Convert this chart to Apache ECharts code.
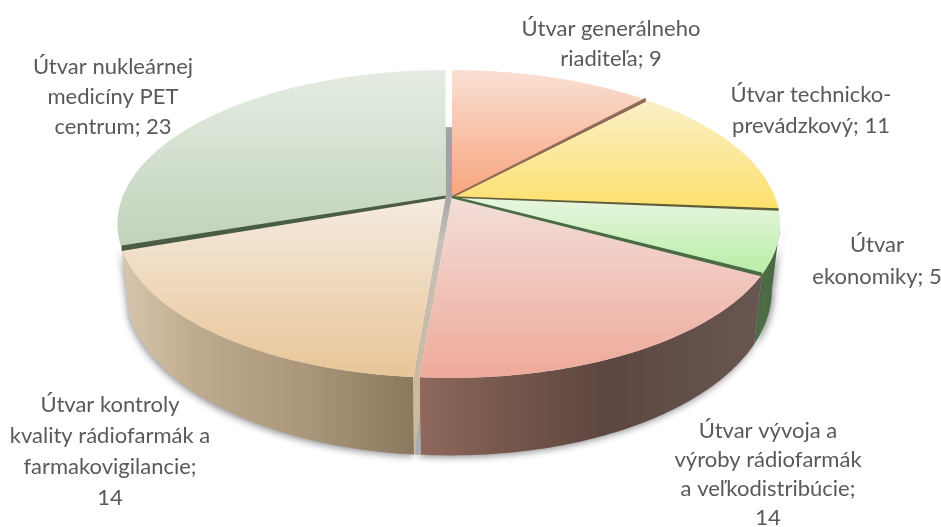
<!DOCTYPE html>
<html>
<head>
<meta charset="utf-8">
<style>html,body{margin:0;padding:0;background:#fff}#c{width:941px;height:527px}</style>
<script src="https://cdn.jsdelivr.net/npm/echarts@6/dist/echarts.min.js"></script>
</head>
<body>
<div id="c"></div>
<script>
const categories = ['Útvar generálneho\nriaditeľa', 'Útvar technicko-\nprevádzkový', 'Útvar\nekonomiky', 'Útvar vývoja a\nvýroby rádiofarmák\na veľkodistribúcie', 'Útvar kontroly\nkvality rádiofarmák a\nfarmakovigilancie', 'Útvar nukleárnej\nmedicíny PET\ncentrum'];
const values = [9, 11, 5, 14, 14, 23];
const valueOnOwnLine = [false, false, false, true, true, false];

// Layout and style, kept apart from the data
const topColors = [['#fae0d5','#f8a47c'],['#fbf0c8','#fde06c'],['#e8f6e0','#b8eea6'],['#f3ded9','#eea999'],['#f4ebe0','#e9c597'],['#e5ece3','#bfd3b9']];
const wallColors = [null, null,
  [[0,'#4f7249'],[1,'#48653f']],
  [[0,'#8f685d'],[0.25,'#76574c'],[0.55,'#5c4640'],[0.8,'#64504a'],[1,'#6a5650']],
  [[0,'#d6c6ac'],[0.25,'#bfab8f'],[0.65,'#a8957a'],[1,'#8b785d']],
  null];
const labelPos = [[611,44],[811,110],[877,261],[768,474],[110,451],[113,97]];
const labelLH = [30,31,32,29,31,30];
const offsets = [0,0,0,0,-6.5,-6.5];
const cutLines = [
  {at:0, color:'#8e6a58', w0:2, w1:4},
  {at:1, color:'#5e5f3a', w0:1.6, w1:2.4},
  {at:2, color:'#4a6b45', w0:2.4, w1:4},
  {at:4, color:'#4b5c45', w0:3, w1:5.5, dx:-6.5}
];
const CX = 452, CY = 197, RX = 323, RY = 149.2, K = 0.175, SHRINK = 0.975, DEPTH = 64;
const total = values.reduce((a,b)=>a+b,0);
const angleAt = i => values.slice(0,i+1).reduce((a,b)=>a+b,0)/total*360;
const startAt = i => i===0 ? 0 : angleAt(i-1);

function wOf(t){ return 1/(1+K*Math.cos(t*Math.PI/180)); }
function rimTop(t,dx,r){
  r = r===undefined?1:r;
  const a=t*Math.PI/180, X=Math.sin(a)*r, Y=-Math.cos(a)*r, w=1/(1-K*Y);
  return [CX+(dx||0)+RX*X*w, CY+RY*Y*w];
}
function rimBottom(t,dx){
  const p=rimTop(t,dx);
  const ax=CX+(dx||0);
  return [ax+(p[0]-ax)*SHRINK, p[1]+DEPTH*wOf(t)];
}
function arc(a,b,fn,dx){
  const n=Math.max(2,Math.ceil(Math.abs(b-a))), pts=[];
  for(let i=0;i<=n;i++) pts.push(fn(a+(b-a)*i/n,dx));
  return pts;
}
function lin(x,y,x2,y2,stops){ return new echarts.graphic.LinearGradient(x,y,x2,y2,stops); }

function renderItem(params, api){
  const i=params.dataIndex, a0=startAt(i), a1=angleAt(i), dx=offsets[i];
  const kids=[];
  // side wall
  const visA=Math.max(a0,100), visB=Math.min(a1,260);
  if(wallColors[i] && visB>visA){
    const t=arc(visA,visB,rimTop,dx), b=arc(visA,visB,rimBottom,dx).reverse();
    kids.push({type:'polygon',z2:2,shape:{points:t.concat(b)},
      style:{fill:lin(0,0,1,0,wallColors[i].map(s=>({offset:s[0],color:s[1]}))),
      shadowBlur:7,shadowColor:'rgba(60,60,70,0.55)',shadowOffsetY:2,shadowOffsetX:i===2?2:-1}});
  }
  // top face
  const pts=[[CX+dx,CY]].concat(arc(a0,a1,rimTop,dx));
  kids.push({type:'polygon',z2:6,shape:{points:pts},
    style:{fill:lin(0,0,0,1,[{offset:0,color:topColors[i][0]},{offset:1,color:topColors[i][1]}])}});
  // label
  const txt=categories[i]+';'+(valueOnOwnLine[i]?'\n':' ')+api.value(0);
  kids.push({type:'text',z2:20,x:labelPos[i][0],y:labelPos[i][1],
    style:{text:txt,fill:'#595959',font:'22px Lato, "Open Sans", sans-serif',align:'center',verticalAlign:'middle',lineHeight:labelLH[i]}});
  // extras attached to the first item
  if(i===0){
    const gapEnd=angleAt(3), G=offsets[4];
    cutLines.forEach(c=>{
      const t=angleAt(c.at), d=c.dx||0, p=rimTop(t,d);
      kids.push({type:'polygon',z2:8,shape:{points:[[CX+d,CY-c.w0/2],[p[0],p[1]-c.w1/2],[p[0],p[1]+c.w1/2],[CX+d,CY+c.w0/2]]},style:{fill:c.color}});
    });
    // grey gap behind the pulled-out slices, at the top
    const gt=rimTop(0,0,0.51);
    kids.push({type:'polygon',z2:1,shape:{points:[[CX+G,gt[1]],[CX,gt[1]],[CX,CY+1],[CX+G,CY+1]]},style:{fill:'#a3a2a5'}});
    // gap between the lower slices
    const r0=rimTop(gapEnd,0), r1=rimTop(gapEnd,G), b0=rimBottom(gapEnd,0), b1=rimBottom(gapEnd,G);
    kids.push({type:'polygon',z2:5,shape:{points:[[CX,CY],r0,r1,[CX+G,CY]]},style:{fill:lin(0,0,0,1,[{offset:0,color:'#a9a6a6'},{offset:0.25,color:'#c6c0b6'},{offset:1,color:'#cbb9a0'}])}});
    kids.push({type:'polygon',z2:4,shape:{points:[r1,r0,b0,b1]},style:{fill:'#cdb99b'}});
    const mid=[r0[0],(r0[1]+b0[1])/2];
    kids.push({type:'polygon',z2:5,shape:{points:[mid,b0,[b1[0]+1.5,b0[1]],[b1[0]+1.5,b0[1]-8]]},style:{fill:'#a7aeb6'}});
  }
  return {type:'group',children:kids};
}

const chart=echarts.init(document.getElementById('c'),null,{renderer:'canvas'});
chart.setOption({
  animation:false,
  backgroundColor:'#ffffff',
  series:[{type:'custom',coordinateSystem:'none',renderItem:renderItem,
    data:values.map((v,i)=>({name:categories[i],value:[v]})),silent:true}]
});
</script>
</body>
</html>
